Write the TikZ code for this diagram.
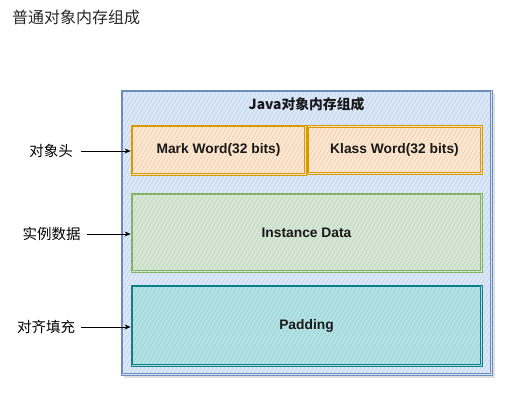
\documentclass[tikz,border=0pt]{standalone}
\usepackage{fontspec}
\setmainfont{Liberation Sans}
\newfontfamily\cjk{Noto Sans CJK SC}
\usetikzlibrary{arrows.meta}
\definecolor{blueF}{HTML}{DAE8FC}\definecolor{blueS}{HTML}{6C8EBF}
\definecolor{orangeF}{HTML}{FFE6CC}\definecolor{orangeS}{HTML}{D79B00}
\definecolor{greenF}{HTML}{D5E8D4}\definecolor{greenS}{HTML}{82B366}
\definecolor{tealF}{HTML}{B0E3E6}\definecolor{tealS}{HTML}{0E8088}
\newcommand\innerframe[2]{\draw[#2, line width=0.8pt]
  ([shift={(2.2pt,-2.2pt)}]#1.north west) rectangle ([shift={(-2.2pt,2.2pt)}]#1.south east);}
\tikzset{
  hatchline/.style={draw=black!45, line width=0.25pt, opacity=0.45},
  hatchbox/.style n args={2}{draw=#2, line width=0.8pt, fill=#1, inner sep=0pt,
    path picture={
      \foreach \i in {-45,...,95}
        \draw[hatchline] ([xshift=\i*4pt]path picture bounding box.south west) -- ++(60:700pt);
    }},
  boxtext/.style={font=\fontsize{13.8}{16}\selectfont\bfseries, text=black!90},
  lbl/.style={font=\cjk\fontsize{14.5}{17}\selectfont, text=black, inner sep=0pt},
  arr/.style={-{Stealth[length=6pt,width=5pt]}, line width=0.8pt, black},
  shadowbox/.style={fill=black, opacity=0.12, draw=none}
}
\begin{document}
\begin{tikzpicture}[x=1pt,y=-1pt]
\useasboundingbox (0,0) rectangle (518,402);
\node[font=\cjk\fontsize{16}{19}\selectfont, text=black!85, anchor=west, inner sep=0pt] (title) at (12,17) {普通对象内存组成};
\fill[shadowbox] (124,93) rectangle (495,378);
\node[hatchbox={blueF}{blueS}, minimum width=371pt, minimum height=285pt] (outer) at (306.5,232.5) {};
\innerframe{outer}{blueS}
\node[font=\cjk\fontsize{13.8}{16}\selectfont\bfseries, text=black!90] (jtitle) at (306.5,104) {Java对象内存组成};
\node[hatchbox={orangeF}{orangeS}, minimum width=175pt, minimum height=50pt] (mark) at (218.5,150) {};
\innerframe{mark}{orangeS}
\node[boxtext] at (mark) {Mark Word(32 bits)};
\node[hatchbox={orangeF}{orangeS}, minimum width=175pt, minimum height=49pt] (klass) at (394.5,150) {};
\innerframe{klass}{orangeS}
\node[boxtext] at (klass) {Klass Word(32 bits)};
\node[hatchbox={greenF}{greenS}, minimum width=351pt, minimum height=79pt] (inst) at (306.5,232.5) {};
\innerframe{inst}{greenS}
\node[boxtext] at (inst) {Instance Data};
\node[hatchbox={tealF}{tealS}, minimum width=351pt, minimum height=81pt] (pad) at (306.5,325.5) {};
\innerframe{pad}{tealS}
\node[boxtext] at (pad) {Padding};
\node[lbl] (l1) at (51,151) {对象头};
\node[lbl] (l2) at (51.5,234) {实例数据};
\node[lbl] (l3) at (46,327) {对齐填充};
\draw[arr] ([xshift=8pt]l1.east) -- (mark.west |- l1);
\draw[arr] ([xshift=6pt]l2.east) -- (inst.west |- l2);
\draw[arr] ([xshift=6pt]l3.east) -- (pad.west |- l3);
\end{tikzpicture}
\end{document}
